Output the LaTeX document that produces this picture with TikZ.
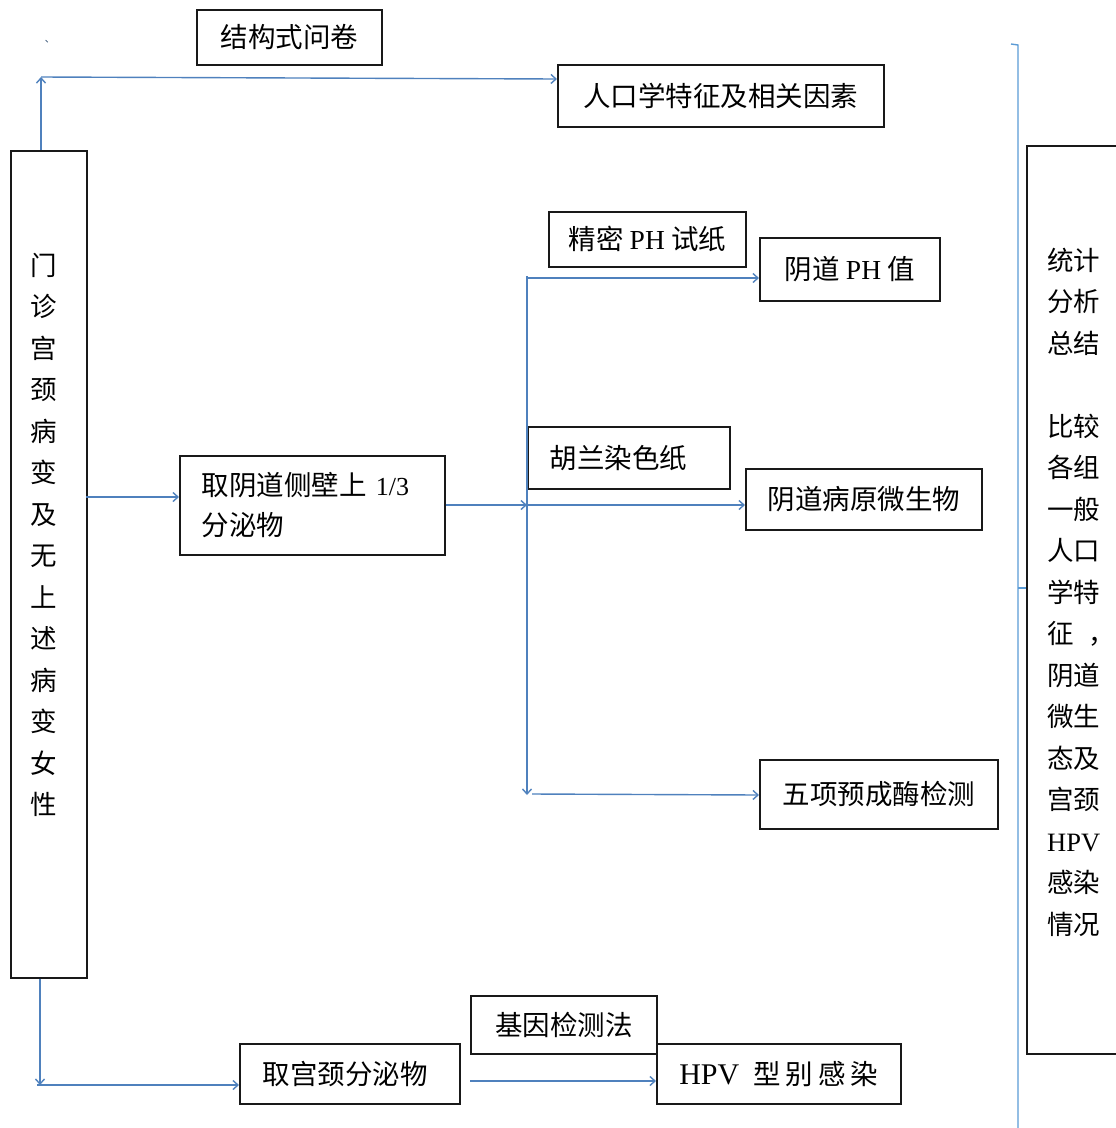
\documentclass[tikz,border=0pt]{standalone}
\usepackage{fontspec}
\setmainfont{Liberation Serif}
\newfontfamily\cjk{Noto Sans CJK SC}
\usetikzlibrary{arrows.meta,calc}
\definecolor{lineblue}{RGB}{79,129,189}
\definecolor{bracketblue}{RGB}{91,155,213}
\begin{document}
\begin{tikzpicture}[x=1pt,y=-1pt,
  box/.style={draw=black!90, line width=1.6pt, anchor=north west, inner sep=0pt,
    font=\cjk\fontsize{27.5}{30}\selectfont},
  conn/.style={draw=lineblue, line width=1.4pt, -{Straight Barb[length=5pt,width=9pt]}},
  vtext/.style={inner sep=0pt, font=\cjk\fontsize{26.5}{41.5}\selectfont}
]
\useasboundingbox (0,0) rectangle (1116,1128);

% boxes
\node[box, minimum width=185pt, minimum height=55pt] (quest) at (196,9) {结构式问卷};
\node[box, minimum width=326pt, minimum height=62pt] (demog) at (557,64) {人口学特征及相关因素};
\node[box, minimum width=76pt, minimum height=827pt] (leftbox) at (10,150) {};
\node[vtext, align=center] (lefttext) at (44,535)
  {门\\诊\\宫\\颈\\病\\变\\及\\无\\上\\述\\病\\变\\女\\性};
\node[box, minimum width=265pt, minimum height=99pt, text width=221pt, align=left,
  font=\cjk\fontsize{27.5}{40}\selectfont] (vag) at (179,455)
  {取阴道侧壁上 {\rmfamily\fontsize{26}{40}\selectfont 1/3}\\分泌物};
\node[box, minimum width=197pt, minimum height=55pt] (paper) at (548,211)
  {精密 {\rmfamily PH} 试纸};
\node[box, minimum width=180pt, minimum height=63pt] (ph) at (759,237)
  {阴道 {\rmfamily PH} 值};
\node[box, minimum width=202pt, minimum height=62pt, text width=158pt, align=left] (gram) at (527,426)
  {胡兰染色纸};
\node[box, minimum width=236pt, minimum height=61pt] (micro) at (745,468)
  {阴道病原微生物};
\node[box, minimum width=238pt, minimum height=69pt] (enz) at (759,759)
  {五项预成酶检测};
\node[box, minimum width=186pt, minimum height=58pt] (gene) at (470,995)
  {基因检测法};
\node[box, minimum width=220pt, minimum height=60pt, text width=174pt, align=left] (cerv) at (239,1043)
  {取宫颈分泌物};
\node[box, minimum width=244pt, minimum height=60pt] (hpv) at (656,1043)
  {{\rmfamily\fontsize{30}{30}\selectfont HPV}\hspace{14pt}型\hspace{5pt}别\hspace{5pt}感\hspace{5pt}染};
\node[box, minimum width=110pt, minimum height=908pt] (rightbox) at (1026,145) {};
\node[vtext, align=left, anchor=west] (righttext) at (1047,592)
  {统计\\分析\\总结\\\mbox{}\\比较\\各组\\一般\\人口\\学特\\征\hspace{15pt}，\\阴道\\微生\\态及\\宫颈\\{\rmfamily HPV}\\感染\\情况};

% small mark
\node[inner sep=0pt, text=lineblue!60!black, font=\cjk\fontsize{10}{10}\selectfont] (mark) at (50,42) {、};

% helper coordinates
\coordinate (cTop) at (41,77);
\coordinate (cDemog) at (557,79);
\coordinate (a1) at (86,497);
\coordinate (hub) at (527,505);
\coordinate (vtop) at (527,276);
\coordinate (vbot) at (527,795);
\coordinate (phin) at (527,278);
\coordinate (bl) at (40,1085);
\coordinate (g1) at (470,1081);

% connectors
\draw[conn] (cTop |- leftbox.north) -- (cTop);
\draw[conn] (cTop) -- (cDemog);
\draw[conn] (a1) -- (a1 -| vag.west);
\draw[conn] (vag.east |- hub) -- (hub);
\draw[conn] (hub) -- (hub -| micro.west);
\draw[conn] (vtop) -- (vbot);
\draw[conn] (phin) -- (phin -| ph.west);
\draw[conn] ($(vbot)+(5,-1)$) -- (vbot -| enz.west);
\draw[conn] (bl |- leftbox.south) -- (bl);
\draw[conn] ($(bl)+(-3,0)$) -- (bl -| cerv.west);
\draw[conn] (g1) -- (g1 -| hpv.west);

% bracket
\coordinate (brTop) at (1018,45);
\coordinate (brBot) at (1018,1128);
\draw[draw=bracketblue, line width=1.4pt] (1011,44) -- (brTop) -- (brBot);
\draw[draw=bracketblue, line width=1.4pt] (1018,588) -- (rightbox.west |- 0,588);
\end{tikzpicture}
\end{document}
